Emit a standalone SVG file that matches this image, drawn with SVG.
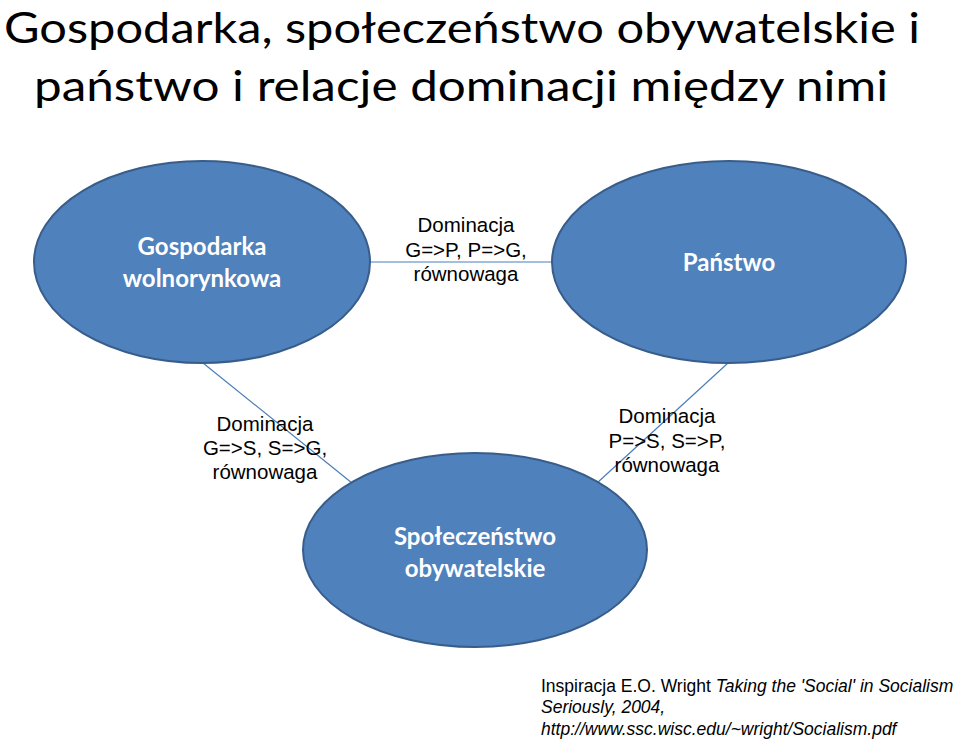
<svg xmlns="http://www.w3.org/2000/svg" width="960" height="740" viewBox="0 0 960 740">
<style>
.node{fill:#4F81BD;stroke:#385D8A;stroke-width:2}
.nt{font-family:Lato,"Open Sans",sans-serif;font-weight:bold;font-size:24px;fill:#fff;text-anchor:middle}
.lbl{font-family:"Liberation Sans",Arial,sans-serif;font-size:20.5px;fill:#000;text-anchor:middle}
.title{font-family:Lato,"Open Sans",sans-serif;font-size:42.5px;fill:#000}
.ref{font-family:"Liberation Sans",Arial,sans-serif;font-size:17.5px;fill:#000}
.conn line{stroke:#4A7EBB;stroke-width:1.2}
</style>
<rect width="960" height="740" fill="#fff"/>
<g id="title">
<text class="title" x="4" y="42.5" textLength="916" lengthAdjust="spacingAndGlyphs">Gospodarka, społeczeństwo obywatelskie i</text>
<text class="title" x="34" y="101" textLength="854" lengthAdjust="spacingAndGlyphs">państwo i relacje dominacji między nimi</text>
</g>
<g id="connectors" class="conn">
<line x1="370" y1="262" x2="552" y2="262"/>
<line x1="203" y1="363" x2="352" y2="483"/>
<line x1="728" y1="363" x2="597" y2="483"/>
</g>
<g id="labels">
<text class="lbl" x="466" y="232">Dominacja</text>
<text class="lbl" x="466" y="257">G=&gt;P, P=&gt;G,</text>
<text class="lbl" x="466" y="281">równowaga</text>
<text class="lbl" x="265" y="431">Dominacja</text>
<text class="lbl" x="265" y="455">G=&gt;S, S=&gt;G,</text>
<text class="lbl" x="265" y="479">równowaga</text>
<text class="lbl" x="667" y="423">Dominacja</text>
<text class="lbl" x="667" y="448">P=&gt;S, S=&gt;P,</text>
<text class="lbl" x="667" y="472">równowaga</text>
</g>
<g id="gospodarka">
<ellipse class="node" cx="202" cy="262" rx="168" ry="101"/>
<text class="nt" x="202" y="255">Gospodarka</text>
<text class="nt" x="202" y="287">wolnorynkowa</text>
</g>
<g id="panstwo">
<ellipse class="node" cx="729" cy="262" rx="177" ry="101"/>
<text class="nt" x="729" y="271">Państwo</text>
</g>
<g id="spoleczenstwo">
<ellipse class="node" cx="475" cy="550" rx="172" ry="97"/>
<text class="nt" x="475" y="545">Społeczeństwo</text>
<text class="nt" x="475" y="577">obywatelskie</text>
</g>
<g id="reference">
<text class="ref" x="541" y="692">Inspiracja E.O. Wright <tspan font-style="italic">Taking the 'Social' in Socialism</tspan></text>
<text class="ref" x="541" y="713" font-style="italic">Seriously, 2004,</text>
<text class="ref" x="541" y="735" font-style="italic">http://www.ssc.wisc.edu/~wright/Socialism.pdf</text>
</g>
</svg>
